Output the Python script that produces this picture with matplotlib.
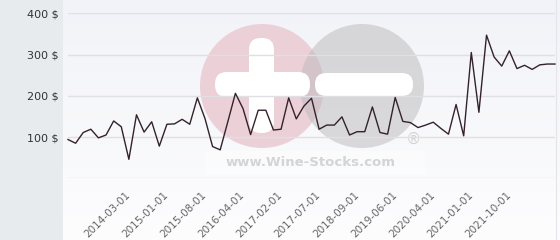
import numpy as np
import matplotlib
matplotlib.use('Agg')
import matplotlib.pyplot as plt
from matplotlib.patches import Circle, Rectangle, FancyBboxPatch

# Prix moyen par vente
values = [94, 85, 111, 119, 98, 105, 139, 125, 46, 154,
          112, 137, 78, 131, 132, 143, 131, 195, 145, 77,
          69, 137, 206, 169, 106, 165, 165, 117, 119, 195,
          144, 175, 194, 119, 129, 129, 149, 105, 113, 113,
          173, 111, 107, 196, 138, 135, 123, 129, 136, 121,
          107, 179, 103, 305, 160, 347, 294, 272, 309, 266,
          274, 264, 275, 277, 277]
tick_labels = ['2014-03-01', '2015-01-01', '2015-08-01', '2016-04-01',
               '2017-02-01', '2017-07-01', '2018-09-01', '2019-06-01',
               '2020-04-01', '2021-01-01', '2021-10-01']
y_ticks = [100, 200, 300, 400]

W, H = 560, 240
fig = plt.figure(figsize=(W / 100, H / 100), dpi=100)

# fond : degrade + bande grise a gauche + filigrane
bg = fig.add_axes([0, 0, 1, 1], zorder=0)
bg.set_xlim(0, W)
bg.set_ylim(H, 0)
bg.axis('off')
grad = np.linspace(0, 1, 100)[:, None]
top = np.array([242, 243, 248]) / 255
bot = np.array([253, 253, 254]) / 255
img = top[None, None, :] * (1 - grad[..., None]) + bot[None, None, :] * grad[..., None]
bg.imshow(img, extent=[0, W, H, 0], aspect='auto')
bg.add_patch(Rectangle((0, 0), 63, H, color='#e7ebee', lw=0))
bg.plot([556, 556], [0, H], color='#e4e4ea', lw=0.8)

# filigrane +/-
bg.add_patch(Circle((262, 86), 62, color='#ecd0d8', lw=0))
bg.add_patch(Circle((362, 86), 62, color=(186/255, 185/255, 186/255), alpha=0.5, lw=0))
bg.add_patch(FancyBboxPatch((249, 38), 25, 95, boxstyle='round,pad=0,rounding_size=12',
                            color='white', lw=0))
bg.add_patch(FancyBboxPatch((215, 72), 95, 25, boxstyle='round,pad=0,rounding_size=12',
                            color='white', lw=0))
bg.add_patch(FancyBboxPatch((315, 73), 98, 23, boxstyle='round,pad=0,rounding_size=11',
                            color='white', lw=0))
bg.add_patch(Rectangle((205, 151), 220, 24, color='white', alpha=0.45, lw=0))
bg.text(311, 163, 'www.Wine-Stocks.com', color='#d4d4d4', fontsize=9.5,
        fontweight='bold', ha='center', va='center')
bg.text(413, 139, '\u00ae', color='#d2d2d2', fontsize=11, ha='center', va='center')

# graphique
ax = fig.add_axes([68 / W, 1 - 178.3 / H, 487 / W, 165 / H], zorder=1)
ax.patch.set_alpha(0)
x = np.arange(len(values))
ax.plot(x, values, color='#33222b', lw=1.0, clip_on=False)
ax.set_xlim(0, len(values) - 1)
ax.set_ylim(0, 400)

ax.set_yticks(y_ticks)
ax.set_yticklabels(['%d $' % v for v in y_ticks])
ax.tick_params(axis='y', length=0, pad=6.5, labelsize=8, labelcolor='#333333')
ax.set_xticks(x[8:8 + 5 * len(tick_labels):5])
ax.set_xticklabels(tick_labels, rotation=45, ha='right', va='center',
                   rotation_mode='anchor')
ax.tick_params(axis='x', length=0, pad=11, labelsize=7.5, labelcolor='#666666')

ax.grid(axis='y', color='#e0e0e4', lw=1)
ax.axhline(0, color='#e0e0e4', lw=1)
for s in ax.spines.values():
    s.set_visible(False)

plt.savefig('out.png', dpi=100)
